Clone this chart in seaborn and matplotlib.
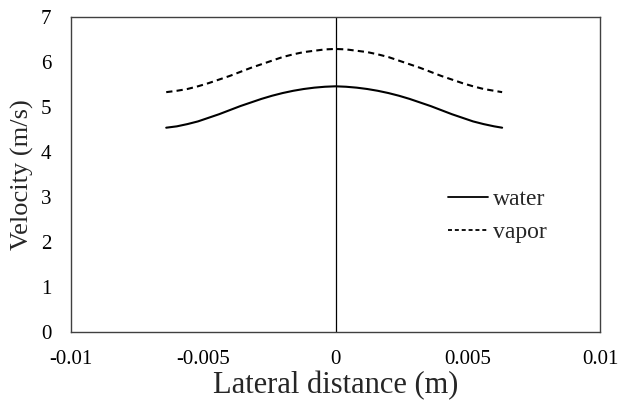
import matplotlib
matplotlib.use("Agg")
import matplotlib.pyplot as plt
import seaborn as sns
import pandas as pd

# Lateral velocity profiles across the channel
x_left = [-0.0064, -0.0060, -0.0056, -0.0052, -0.0048, -0.0044, -0.0040, -0.0036,
          -0.0032, -0.0028, -0.0024, -0.0020, -0.0016, -0.0012, -0.0008, -0.0004, 0.0]
x_right = [0.0004, 0.0008, 0.0012, 0.0016, 0.0020, 0.0024, 0.0028, 0.0032,
           0.0036, 0.0040, 0.0044, 0.0048, 0.0052, 0.0056, 0.0060, 0.0063]
lateral = x_left + x_right

water_left = [4.54, 4.57, 4.62, 4.68, 4.76, 4.84, 4.93, 5.02,
              5.10, 5.18, 5.25, 5.31, 5.36, 5.40, 5.43, 5.45, 5.46]
water_right = [5.45, 5.43, 5.40, 5.36, 5.31, 5.25, 5.18, 5.10,
               5.02, 4.93, 4.84, 4.76, 4.68, 4.62, 4.57, 4.54]
vapor_left = [5.33, 5.36, 5.40, 5.46, 5.53, 5.61, 5.69, 5.78,
              5.87, 5.95, 6.03, 6.11, 6.17, 6.22, 6.25, 6.28, 6.29]
vapor_right = [6.28, 6.25, 6.22, 6.17, 6.11, 6.03, 5.95, 5.87,
               5.78, 5.69, 5.61, 5.53, 5.46, 5.40, 5.36, 5.33]
water = water_left + water_right
vapor = vapor_left + vapor_right

x_ticks = [-0.01, -0.005, 0, 0.005, 0.01]
x_tick_labels = ["-0.01", "-0.005", "0", "0.005", "0.01"]
y_ticks = [0, 1, 2, 3, 4, 5, 6, 7]

df = pd.DataFrame({
    "x": lateral * 2,
    "v": water + vapor,
    "phase": ["water"] * len(water) + ["vapor"] * len(vapor),
})

sns.set_style("white")
plt.rcParams["font.family"] = ["Liberation Serif", "DejaVu Serif"]

fig = plt.figure(figsize=(6.29, 4.01), dpi=100)
ax = fig.add_axes([71 / 629, 1 - 332 / 401, (600 - 71) / 629, (332 - 17) / 401])

sns.lineplot(
    data=df, x="x", y="v", style="phase", style_order=["water", "vapor"],
    dashes={"water": "", "vapor": (3, 2)}, color="black", linewidth=1.5,
    ax=ax, sort=False, legend=True,
)

ax.axvline(0, color="black", linewidth=0.9, zorder=1)

ax.set_xlim(-0.01, 0.01)
ax.set_ylim(0, 7)
ax.set_xticks(x_ticks)
ax.set_xticklabels(x_tick_labels)
ax.set_yticks(y_ticks)
ax.tick_params(axis="both", length=0, labelsize=15, colors="black")
ax.tick_params(axis="x", pad=13)
ax.tick_params(axis="y", pad=14)

for s in ax.spines.values():
    s.set_visible(True)
    s.set_color("#404040")
    s.set_linewidth(1.0)

ax.set_xlabel("Lateral distance (m)", fontsize=22, labelpad=1)
ax.set_ylabel("Velocity (m/s)", fontsize=19, labelpad=5)

handles, labels = ax.get_legend_handles_labels()
for h in handles:
    h.set_linewidth(1.3)
handles[1].set_dashes((2.2, 1.6))
ax.legend(
    handles, labels, loc="center left",
    bbox_to_anchor=(448 / 629, 1 - 216 / 401), bbox_transform=fig.transFigure,
    frameon=False, fontsize=17, handlelength=1.7, handletextpad=0.2,
    labelspacing=0.5, borderpad=0, borderaxespad=0,
)

fig.savefig("out.png", dpi=100)
